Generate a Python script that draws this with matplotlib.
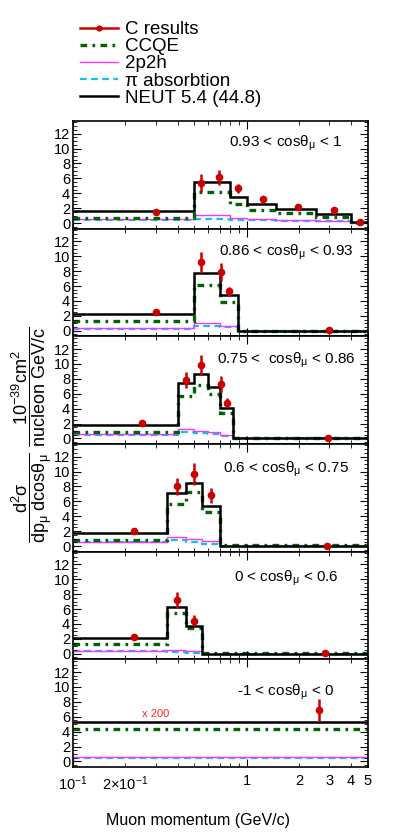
import matplotlib
matplotlib.use('Agg')
import matplotlib.pyplot as plt
from matplotlib.lines import Line2D
from matplotlib.ticker import FixedLocator, FuncFormatter, MultipleLocator

plt.rcParams['font.family'] = ['Liberation Sans', 'DejaVu Sans']
plt.rcParams['mathtext.fontset'] = 'custom'
plt.rcParams['mathtext.rm'] = 'Liberation Sans'
plt.rcParams['mathtext.it'] = 'Liberation Sans:italic'
plt.rcParams['mathtext.default'] = 'regular'

# one entry per panel, top to bottom
LABELS = [
    '0.93 < cosθ$_{μ}$ < 1',
    '0.86 < cosθ$_{μ}$ < 0.93',
    '0.75 <  cosθ$_{μ}$ < 0.86',
    '0.6 < cosθ$_{μ}$ < 0.75',
    '0 < cosθ$_{μ}$ < 0.6',
    '-1 < cosθ$_{μ}$ < 0',
]
EDGES = [
    [0.1, 0.5, 0.8, 1.0, 1.47, 2.5, 4.0, 5.0],
    [0.1, 0.5, 0.7, 0.89, 5.0],
    [0.1, 0.4, 0.5, 0.6, 0.7, 0.84, 5.0],
    [0.1, 0.35, 0.45, 0.55, 0.7, 5.0],
    [0.1, 0.35, 0.45, 0.55, 5.0],
    [0.1, 5.0],
]
NEUT = [
    [1.68, 5.55, 3.5, 2.6, 1.95, 1.24, 0.1],
    [2.27, 7.78, 4.84, 0.02],
    [1.82, 7.5, 8.7, 6.93, 4.1, 0.02],
    [1.73, 7.07, 8.5, 5.42, 0.02],
    [2.09, 6.27, 3.78, 0.02],
    [5.33],
]
CCQE = [
    [0.7, 4.2, 2.5, 1.77, 1.33, 0.84, 0.05],
    [1.33, 6.1, 3.9, 0.02],
    [0.84, 5.7, 7.15, 6.0, 3.4, 0.02],
    [0.76, 5.6, 7.2, 4.62, 0.15],
    [1.33, 5.42, 3.42, 0.05],
    [4.36],
]
TWOP2H = [
    [0.5, 1.15, 0.67, 0.55, 0.48, 0.3, 0.02],
    [0.4, 1.0, 0.58, 0.0],
    [0.58, 1.24, 1.0, 0.84, 0.4, 0.0],
    [0.53, 1.2, 0.98, 0.62, 0.0],
    [0.4, 0.49, 0.31, 0.0],
    [0.58],
]
PIABS = [
    [0.36, 0.49, 0.36, 0.36, 0.33, 0.27, 0.02],
    [0.27, 0.67, 0.45, 0.0],
    [0.45, 0.84, 0.7, 0.58, 0.27, 0.0],
    [0.5, 0.76, 0.53, 0.31, 0.0],
    [0.31, 0.22, 0.09, 0.0],
    [0.4],
]
DATA_X = [
    [0.30, 0.546, 0.693, 0.892, 1.238, 1.98, 3.2, 4.52],
    [0.30, 0.548, 0.709, 0.795, 2.99],
    [0.249, 0.448, 0.546, 0.709, 0.768, 2.96],
    [0.224, 0.399, 0.5, 0.621, 2.9],
    [0.224, 0.399, 0.5, 2.84],
    [2.61],
]
DATA_Y = [
    [1.47, 5.33, 6.13, 4.67, 3.2, 2.2, 1.73, 0.08],
    [2.53, 9.2, 7.9, 5.33, 0.05],
    [2.09, 7.82, 9.9, 7.3, 4.8, 0.05],
    [2.0, 8.0, 9.64, 6.84, 0.05],
    [2.31, 7.2, 4.44, 0.04],
    [6.93],
]
DATA_ERR = [
    [0.15, 1.2, 1.0, 0.6, 0.3, 0.2, 0.15, 0.05],
    [0.2, 1.4, 1.25, 0.6, 0.05],
    [0.15, 1.05, 1.33, 1.05, 0.65, 0.05],
    [0.15, 1.2, 1.47, 1.0, 0.05],
    [0.2, 1.07, 0.7, 0.05],
    [1.45],
]
LABEL_Y = [0.79, 0.78, 0.78, 0.76, 0.75, 0.69]

RED = '#cc0000'
GREEN = '#006400'
MAGENTA = '#ff33ff'
CYAN = '#11c0f0'
GREEN_LS = (0, (2.0, 1.6, 0.8, 1.6))

fig = plt.figure(figsize=(3.99, 8.39), dpi=100)
top, bottom = 1 - 121 / 839, 1 - 767 / 839
left, right = 73 / 399, 368 / 399
h = (top - bottom) / 6

axes = []
for i in range(6):
    ax = fig.add_axes([left, top - (i + 1) * h, right - left, h])
    axes.append(ax)
    ax.set_xscale('log')
    ax.stairs(PIABS[i], EDGES[i], color=CYAN, lw=1.6, ls=(0, (3, 2)), baseline=None)
    ax.stairs(TWOP2H[i], EDGES[i], color=MAGENTA, lw=1.0, baseline=None)
    ax.stairs(CCQE[i], EDGES[i], color=GREEN, lw=2.4, ls=GREEN_LS, baseline=None)
    ax.stairs(NEUT[i], EDGES[i], color='black', lw=1.8, baseline=None)
    ax.errorbar(DATA_X[i], DATA_Y[i], yerr=DATA_ERR[i], fmt='o', color=RED,
                ms=4.5, elinewidth=1.8, capsize=0, zorder=5)
    ax.text(0.722, LABEL_Y[i], LABELS[i], transform=ax.transAxes,
            ha='center', va='center', fontsize=11)
    ax.set_xlim(0.1, 5)
    ax.set_ylim(-0.75, 13.7)
    ax.yaxis.set_minor_locator(MultipleLocator(0.5))
    ax.set_yticks([0, 2, 4, 6, 8, 10, 12])
    ax.xaxis.set_major_locator(FixedLocator([0.1, 1]))
    ax.xaxis.set_minor_locator(FixedLocator([0.2, 0.3, 0.4, 0.5, 0.6, 0.7, 0.8, 0.9, 2, 3, 4, 5]))
    ax.tick_params(which='both', direction='in', top=True, right=True,
                   labelsize=10.5, pad=2)
    ax.tick_params(which='major', length=6)
    ax.tick_params(which='minor', length=3)
    for s in ax.spines.values():
        s.set_linewidth(1.2)
    if i < 5:
        ax.tick_params(which='both', labelbottom=False)

axes[5].text(0.3, 6.4, 'x 200', color='#ff2222', fontsize=8, ha='center', va='center')

major_lab = {0.1: r'$10^{-1}$', 1: '1'}
minor_lab = {0.2: r'$2{\times}10^{-1}$', 2: '2', 3: '3', 4: '4', 5: '5'}
axes[5].xaxis.set_major_formatter(FuncFormatter(lambda v, p: major_lab.get(round(v, 3), '')))
axes[5].xaxis.set_minor_formatter(FuncFormatter(lambda v, p: minor_lab.get(round(v, 3), '')))
axes[5].tick_params(axis='x', which='both', labelsize=10.5, pad=5)

fig.text(198 / 399, 1 - 820 / 839, 'Muon momentum (GeV/c)', ha='center', va='center', fontsize=11.5)
fig.text(32 / 399, 1 - 435 / 839,
         r'$\dfrac{d^{2}\sigma}{dp_{\mu}\ dcos\theta_{\mu}}\ \dfrac{10^{-39}cm^{2}}{nucleon\ GeV/c}$',
         rotation=90, ha='center', va='center', fontsize=13)

handles = [
    Line2D([], [], color=RED, lw=1.8, marker='o', ms=3.5),
    Line2D([], [], color=GREEN, lw=2.4, ls=GREEN_LS),
    Line2D([], [], color=MAGENTA, lw=1.0),
    Line2D([], [], color=CYAN, lw=1.6, ls=(0, (3, 2))),
    Line2D([], [], color='black', lw=1.8),
]
names = ['C results', 'CCQE', '2p2h', 'π absorbtion', 'NEUT 5.4 (44.8)']
fig.legend(handles, names, loc='upper left', bbox_to_anchor=(80 / 399, 1 - 21 / 839),
           frameon=False, fontsize=13.5, labelspacing=0.0, handlelength=2.0,
           handletextpad=0.38, borderpad=0, borderaxespad=0)

fig.savefig('out.png', dpi=100)
